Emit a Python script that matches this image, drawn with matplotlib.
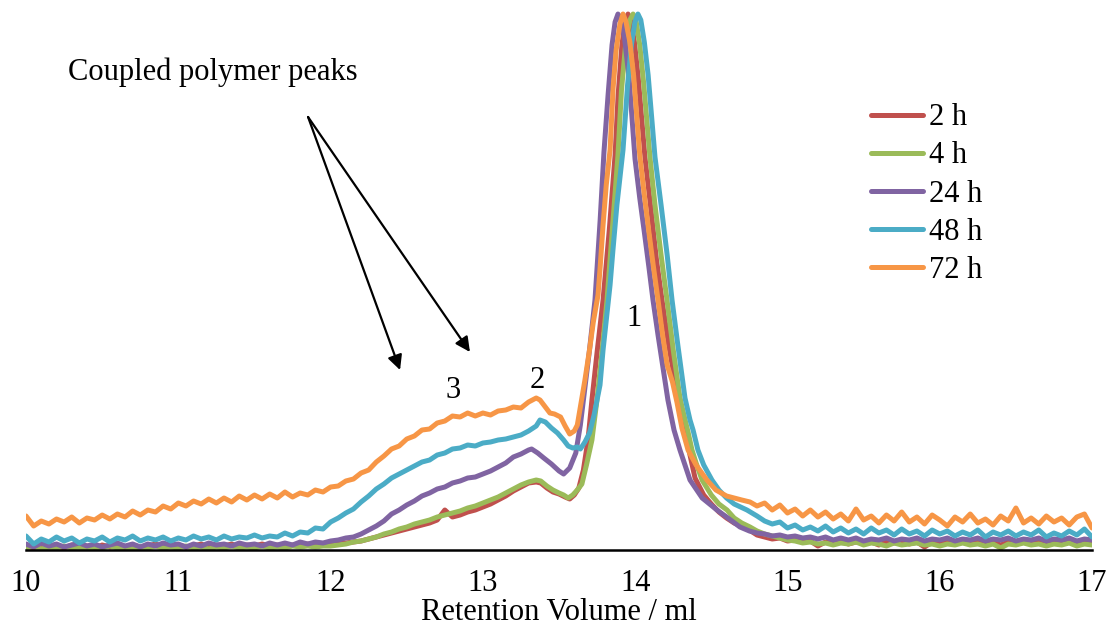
import matplotlib.pyplot as plt

plt.rcParams['font.family'] = ['Liberation Serif', 'DejaVu Serif']

# retention volume grids (ml) for the flat parts left/right of the main peak
left_ml = [10.00, 10.05, 10.10, 10.15, 10.20, 10.25, 10.30, 10.35, 10.40, 10.45,
           10.50, 10.55, 10.60, 10.65, 10.70, 10.75, 10.80, 10.85, 10.90, 10.95,
           11.00, 11.05, 11.10, 11.15, 11.20, 11.25, 11.30, 11.35, 11.40, 11.45,
           11.50, 11.55, 11.60, 11.65, 11.70, 11.75, 11.80, 11.85, 11.90, 11.95,
           12.00, 12.05, 12.10, 12.15, 12.20, 12.25, 12.30, 12.35, 12.40, 12.45,
           12.50, 12.55, 12.60, 12.65, 12.70, 12.75, 12.80, 12.85, 12.90, 12.95,
           13.00, 13.05, 13.10, 13.15, 13.20, 13.25, 13.30]
right_ml = [14.80, 14.85, 14.90, 14.95,
            15.00, 15.05, 15.10, 15.15, 15.20, 15.25, 15.30, 15.35, 15.40, 15.45,
            15.50, 15.55, 15.60, 15.65, 15.70, 15.75, 15.80, 15.85, 15.90, 15.95,
            16.00, 16.05, 16.10, 16.15, 16.20, 16.25, 16.30, 16.35, 16.40, 16.45,
            16.50, 16.55, 16.60, 16.65, 16.70, 16.75, 16.80, 16.85, 16.90, 16.95,
            17.00]

# ---- 2 h ----
red_left = [4, 2, 5, 3, 4, 2, 5, 3, 4, 2,
            5, 3, 4, 2, 5, 3, 4, 6, 3, 4,
            5, 3, 4, 6, 3, 5, 4, 6, 3, 5,
            4, 6, 4, 5, 3, 5, 4, 6, 4, 5,
            5, 6, 7, 8, 9, 11, 13, 15, 17, 19,
            21, 23, 25, 27, 30, 40, 33, 35, 38, 40,
            43, 46, 50, 54, 59, 63, 67]
red_mid_ml = [13.35, 13.38, 13.42, 13.46, 13.50, 13.54, 13.57, 13.60, 13.63, 13.66,
              13.69, 13.716, 13.75, 13.789, 13.83, 13.868, 13.888, 13.913, 13.933, 13.953,
              13.97, 13.995, 14.02, 14.064, 14.10, 14.14, 14.176, 14.22, 14.26, 14.294,
              14.33, 14.36, 14.393, 14.45, 14.50, 14.55, 14.60, 14.65, 14.70, 14.75]
red_mid = [68, 67, 62, 58, 56, 53, 51, 55, 62, 80,
           110, 150, 198, 250, 320, 395, 455, 505, 528, 536,
           530, 508, 472, 393, 345, 290, 250, 205, 170, 150,
           118, 95, 72, 55, 46, 38, 32, 27, 24, 20]
red_right = [15, 13, 11, 12,
             9, 10, 8, 9, 4, 8, 7, 9, 6, 8,
             7, 8, 5, 8, 7, 9, 6, 8, 3, 8,
             7, 8, 6, 8, 7, 9, 6, 8, 5, 8,
             7, 8, 6, 8, 7, 9, 6, 8, 7, 8,
             6]

# ---- 4 h ----
green_left = [2, 4, 1, 3, 2, 4, 2, 3, 1, 3,
              2, 4, 2, 3, 1, 3, 2, 4, 2, 3,
              2, 4, 2, 3, 1, 3, 2, 4, 2, 3,
              2, 4, 2, 3, 2, 4, 3, 4, 3, 4,
              4, 5, 6, 8, 9, 11, 13, 16, 18, 21,
              23, 26, 28, 30, 33, 35, 37, 39, 42, 44,
              47, 50, 53, 57, 61, 65, 68]
green_mid_ml = [13.35, 13.38, 13.42, 13.46, 13.50, 13.53, 13.56, 13.59, 13.62, 13.65,
                13.68, 13.716, 13.749, 13.78, 13.815, 13.85, 13.887, 13.91, 13.94, 13.965,
                13.986, 14.005, 14.03, 14.055, 14.097, 14.13, 14.17, 14.209, 14.25, 14.294,
                14.32, 14.347, 14.373, 14.40, 14.439, 14.50, 14.55, 14.603, 14.65, 14.70,
                14.754]
green_mid = [70, 69, 64, 60, 57, 55, 52, 55, 60, 66,
             85, 110, 150, 195, 250, 320, 395, 460, 510, 530,
             536, 530, 505, 468, 393, 345, 295, 250, 200, 152,
             135, 118, 100, 87, 70, 55, 46, 40, 32, 27,
             23]
green_right = [19, 16, 14, 12,
               10, 9, 7, 8, 6, 7, 5, 7, 6, 8,
               5, 7, 6, 4, 7, 5, 6, 7, 5, 6,
               4, 6, 5, 7, 5, 6, 4, 6, 2, 6,
               5, 7, 5, 6, 4, 6, 5, 7, 4, 6,
               5]

# ---- 24 h ----
purple_left = [6, 3, 7, 4, 6, 3, 5, 7, 4, 6,
               3, 5, 7, 4, 6, 3, 6, 4, 7, 5,
               6, 3, 6, 4, 7, 5, 6, 4, 7, 5,
               6, 4, 7, 5, 7, 5, 8, 6, 8, 7,
               9, 10, 12, 13, 16, 20, 24, 29, 36, 40,
               45, 49, 54, 57, 61, 63, 67, 69, 72, 73,
               76, 79, 83, 87, 93, 96, 100]
purple_mid_ml = [13.32, 13.36, 13.40, 13.45, 13.50, 13.53, 13.57, 13.61, 13.64, 13.66,
                 13.70, 13.736, 13.77, 13.795, 13.822, 13.848, 13.868, 13.887, 13.905, 13.93,
                 13.96, 13.999, 14.03, 14.06, 14.09, 14.117, 14.15, 14.18, 14.215, 14.255,
                 14.294, 14.36, 14.44, 14.537, 14.60, 14.688, 14.75]
purple_mid = [101, 97, 92, 86, 79, 76, 82, 97, 125, 150,
              200, 250, 330, 398, 455, 505, 528, 536, 531, 512,
              472, 391, 352, 318, 283, 250, 215, 185, 150, 120,
              100, 70, 52, 40, 33, 23, 19]
purple_right = [17, 16, 14, 15,
                13, 14, 12, 13, 11, 13, 10, 12, 10, 12,
                9, 11, 10, 12, 9, 11, 10, 12, 9, 11,
                10, 12, 9, 11, 10, 12, 9, 11, 10, 12,
                9, 11, 10, 12, 9, 11, 10, 12, 9, 11,
                10]

# ---- 48 h ----
cyan_left = [14, 6, 11, 8, 13, 9, 12, 7, 11, 9,
             13, 8, 12, 10, 14, 9, 12, 10, 13, 9,
             12, 10, 14, 11, 13, 10, 14, 11, 13, 12,
             15, 12, 14, 13, 17, 14, 18, 17, 22, 21,
             28, 32, 37, 41, 48, 54, 61, 66, 72, 76,
             80, 84, 88, 90, 95, 97, 101, 102, 105, 104,
             107, 108, 110, 111, 113, 115, 119]
cyan_mid_ml = [13.35, 13.375, 13.41, 13.45, 13.49, 13.53, 13.56, 13.59, 13.62, 13.64,
               13.67, 13.70, 13.73, 13.769, 13.789, 13.835, 13.854, 13.88, 13.92, 13.95,
               13.975, 13.998, 14.018, 14.037, 14.06, 14.085, 14.13, 14.17, 14.21, 14.242,
               14.28, 14.327, 14.36, 14.38, 14.412, 14.45, 14.504, 14.55, 14.60, 14.65,
               14.734]
cyan_mid = [124, 130, 128, 122, 117, 110, 104, 102, 103, 101,
            108, 117, 135, 165, 200, 265, 300, 345, 400, 465,
            505, 528, 536, 530, 508, 475, 393, 345, 295, 250,
            205, 152, 130, 120, 100, 85, 70, 60, 52, 46,
            40]
cyan_right = [34, 29, 26, 28,
              22, 25, 20, 23, 19, 24, 18, 22, 17, 21,
              16, 22, 17, 20, 15, 21, 16, 19, 14, 20,
              16, 19, 14, 18, 15, 20, 13, 18, 15, 19,
              14, 18, 15, 20, 13, 17, 14, 19, 15, 21,
              13]

# ---- 72 h ----
orange_left = [34, 24, 29, 26, 31, 28, 33, 27, 32, 30,
               35, 31, 36, 33, 39, 35, 40, 38, 44, 41,
               47, 44, 49, 46, 51, 47, 52, 48, 54, 50,
               55, 51, 56, 52, 58, 53, 57, 55, 60, 58,
               63, 64, 69, 71, 77, 80, 88, 94, 101, 104,
               111, 114, 120, 121, 127, 129, 134, 133, 137, 134,
               137, 135, 139, 140, 143, 142, 148]
orange_mid_ml = [13.35, 13.375, 13.40, 13.44, 13.47, 13.51, 13.54, 13.57, 13.60, 13.62,
                 13.64, 13.67, 13.70, 13.725, 13.756, 13.77, 13.789, 13.81, 13.835, 13.855,
                 13.875, 13.90, 13.92, 13.94, 13.965, 13.99, 14.03, 14.06, 14.09, 14.12,
                 14.15, 14.18, 14.21, 14.245, 14.274, 14.307, 14.347, 14.40, 14.471, 14.53,
                 14.60, 14.70, 14.754]
orange_mid = [152, 150, 145, 137, 136, 133, 124, 116, 119, 125,
              143, 170, 200, 228, 255, 283, 325, 365, 400, 462,
              500, 526, 536, 528, 508, 474, 395, 355, 318, 283,
              250, 215, 185, 168, 148, 122, 100, 85, 70, 60,
              54, 50, 48]
orange_right = [44, 47, 40, 45,
                37, 41, 34, 40, 33, 38, 31, 36, 29, 41,
                30, 34, 27, 35, 29, 38, 28, 33, 26, 35,
                30, 24, 33, 28, 36, 27, 31, 25, 34, 29,
                42, 27, 32, 26, 34, 28, 32, 25, 33, 36,
                22]

series = [
    ('2 h', '#C0504D', red_left, red_mid_ml, red_mid, red_right),
    ('4 h', '#9BBB59', green_left, green_mid_ml, green_mid, green_right),
    ('24 h', '#8064A2', purple_left, purple_mid_ml, purple_mid, purple_right),
    ('48 h', '#4BACC6', cyan_left, cyan_mid_ml, cyan_mid, cyan_right),
    ('72 h', '#F79646', orange_left, orange_mid_ml, orange_mid, orange_right),
]

fig = plt.figure(figsize=(11.08, 6.26), dpi=100)
ax = fig.add_axes([0.0235, 0.1214, 0.9621, 0.8626])

for label, color, yl, mx, my, yr in series:
    xs = left_ml + mx + right_ml
    ys = yl + my + yr
    ax.plot(xs, ys, color=color, lw=3.6, label=label,
            solid_joinstyle='round', solid_capstyle='round')

ax.set_xlim(10, 17)
ax.set_ylim(0, 540)
ax.set_xticks([10, 11, 12, 13, 14, 15, 16, 17])
ax.set_yticks([])
for s in ['left', 'right', 'top']:
    ax.spines[s].set_visible(False)
ax.spines['bottom'].set_linewidth(1.8)
ax.tick_params(axis='x', length=0, pad=14, labelsize=22)
ax.set_xlabel('Retention Volume / ml', fontsize=22, labelpad=0)

# peak labels and arrows
ax.text(10.276, 478, 'Coupled polymer peaks', fontsize=22, ha='left', va='center')
for hx, hy in [(12.456, 180), (12.915, 198)]:
    ax.annotate('', xy=(hx, hy), xytext=(11.852, 433),
                arrowprops=dict(arrowstyle='-|>', color='black', lw=1.6,
                                mutation_scale=22, shrinkA=0, shrinkB=0))
ax.text(12.804, 160, '3', fontsize=22, ha='center', va='center')
ax.text(13.355, 170, '2', fontsize=22, ha='center', va='center')
ax.text(13.992, 232, '1', fontsize=22, ha='center', va='center')

leg = ax.legend(loc='upper left', bbox_to_anchor=(856 / 1108, 1 - 88 / 626),
                bbox_transform=fig.transFigure, frameon=False, fontsize=22,
                handlelength=1.7, handletextpad=0.2, labelspacing=0.3, borderpad=0)
for h in leg.get_lines():
    h.set_linewidth(3.6)

fig.savefig('out.png', dpi=100)
